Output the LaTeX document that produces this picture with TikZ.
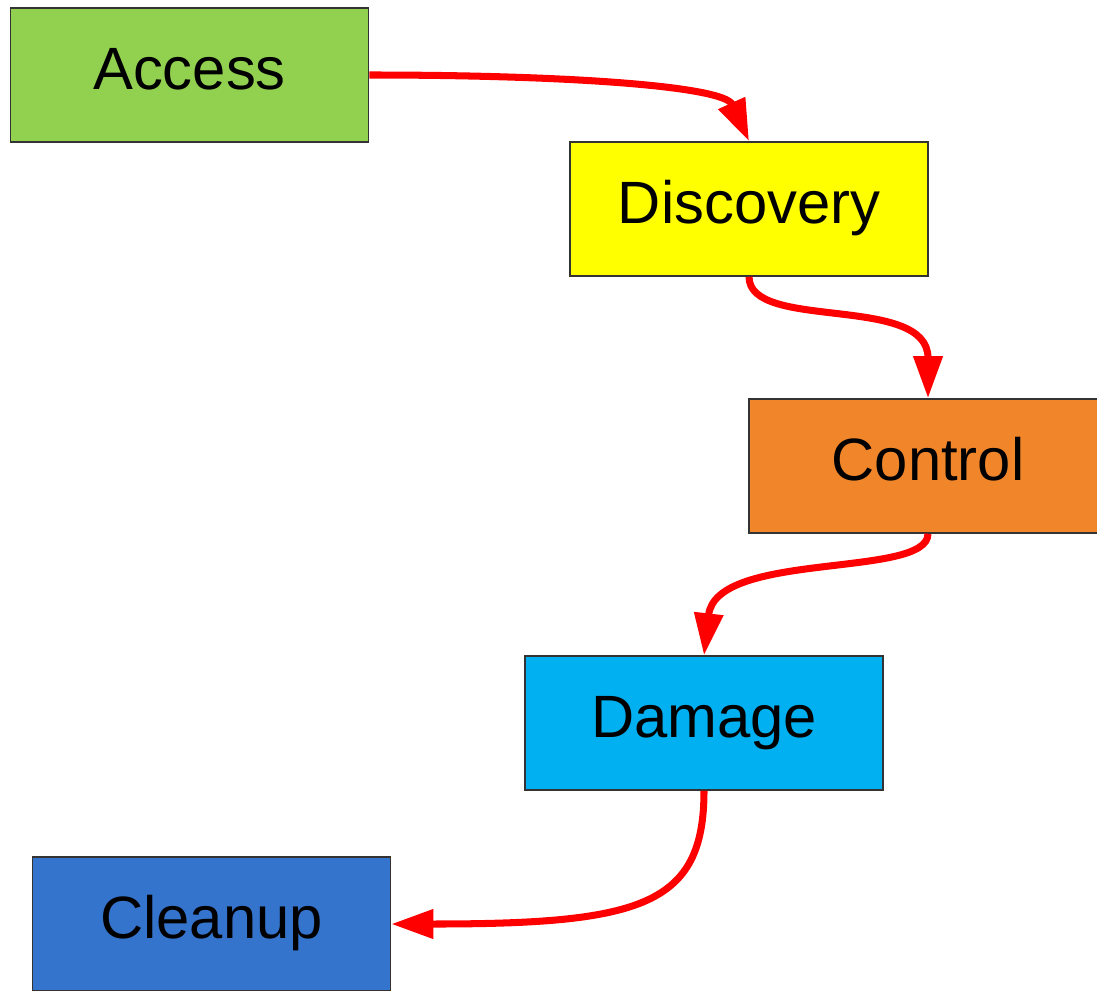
\documentclass[tikz,border=0pt]{standalone}
\usepackage{fontspec}
\setmainfont{Liberation Sans}
\usetikzlibrary{arrows.meta}
\definecolor{StageGreen}{HTML}{92D050}
\definecolor{StageYellow}{HTML}{FFFF00}
\definecolor{StageOrange}{HTML}{F0852A}
\definecolor{StageCyan}{HTML}{00B0F0}
\definecolor{StageBlue}{HTML}{3574CC}
\definecolor{FlowRed}{HTML}{FF0000}
\begin{document}
\begin{tikzpicture}[
    x=0.02cm, y=-0.02cm,
    stage/.style={
      rectangle, draw=black!80, line width=0.9pt, minimum width=7.16cm,
      minimum height=2.68cm, align=center, text height=24pt, text depth=7pt,
      font=\fontsize{34}{40}\selectfont
    },
    flow/.style={-{Triangle[length=0.84cm, width=0.56cm]}, draw=FlowRed, line width=4pt}
  ]
    \useasboundingbox (0,0) rectangle (1097,990);
    \clip (0,0) rectangle (1097,990);

    \node[stage, fill=StageGreen] (access) at (189.5,75) {Access};
    \node[stage, fill=StageYellow] (discovery) at (749,209) {Discovery};
    \node[stage, fill=StageOrange] (control) at (928,466) {Control};
    \node[stage, fill=StageCyan] (damage) at (704,723) {Damage};
    \node[stage, fill=StageBlue] (cleanup) at (211.5,924) {Cleanup};

    \draw[flow] (access.east) .. controls +(200,0) and +(-25,-55) .. (discovery.north);
    \draw[flow] (discovery.south) .. controls +(0,55) and +(0,-105) .. (control.north);
    \draw[flow] (control.south) .. controls +(0,45) and +(12,-105) .. (damage.north);
    \draw[flow] (damage.south) .. controls +(0,115) and +(250,0) .. (cleanup.east);
  \end{tikzpicture}
\end{document}
